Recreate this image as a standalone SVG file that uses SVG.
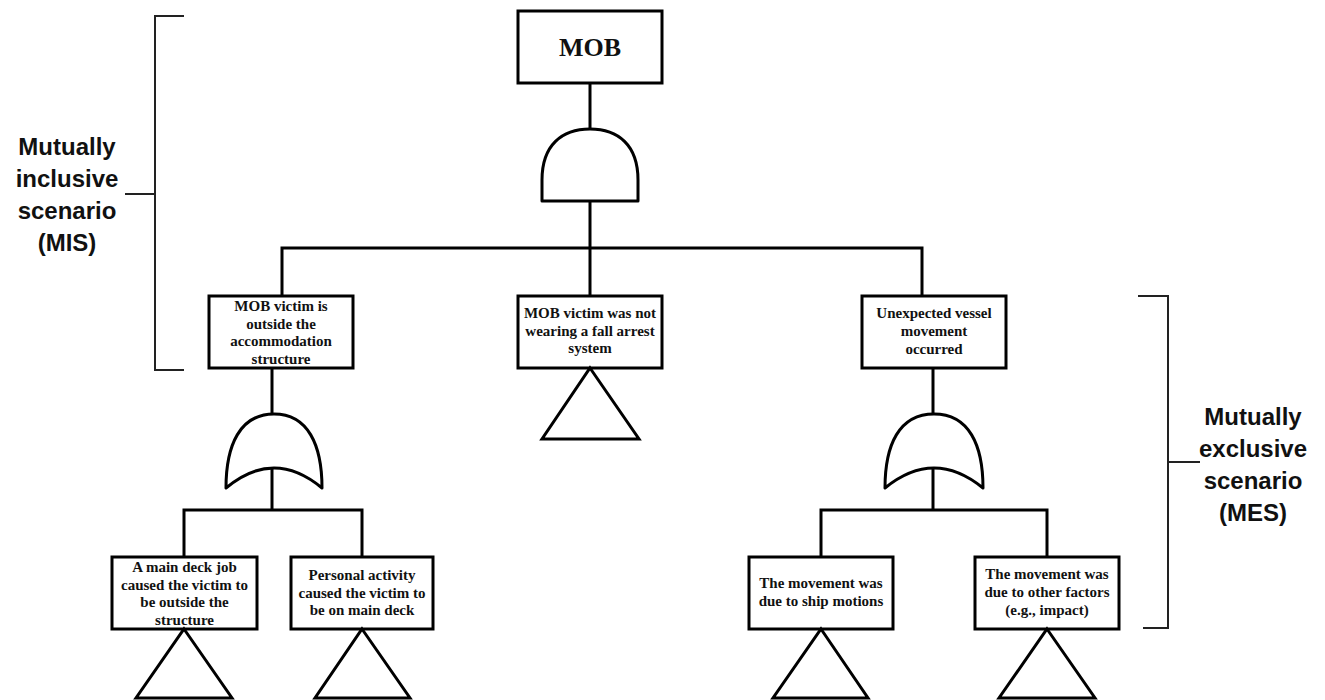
<svg xmlns="http://www.w3.org/2000/svg" width="1325" height="700" viewBox="0 0 1325 700">
  <style>
    .box { fill: #fff; stroke: #000; stroke-width: 3; }
    .gate { fill: #fff; stroke: #000; stroke-width: 3; stroke-linejoin: round; }
    .tri { fill: #fff; stroke: #000; stroke-width: 3; stroke-linejoin: miter; }
    .wire { fill: none; stroke: #000; stroke-width: 3; }
    .brace { fill: none; stroke: #222; stroke-width: 2; }
    .lbl { font-family: "Liberation Serif", "Times New Roman", serif; font-weight: bold; font-size: 15px; fill: #111; text-anchor: middle; }
    .top { font-family: "Liberation Serif", "Times New Roman", serif; font-weight: bold; font-size: 26px; fill: #111; text-anchor: middle; }
    .side { font-family: "Liberation Sans", Arial, sans-serif; font-weight: bold; font-size: 24px; fill: #111; text-anchor: middle; }
  </style>
  <rect width="1325" height="700" fill="#fff"/>

  <!-- connectors -->
  <g id="connectors">
    <path class="wire" d="M590,83 V129"/>
    <path class="wire" d="M590,201 V248"/>
    <path class="wire" d="M282,296 V248 H922 V296"/>
    <path class="wire" d="M590,248 V296"/>
    <path class="wire" d="M272,368 V414"/>
    <path class="wire" d="M272,468 V510"/>
    <path class="wire" d="M184,557 V510 H362 V557"/>
    <path class="wire" d="M933,368 V414"/>
    <path class="wire" d="M933,468 V510"/>
    <path class="wire" d="M821,557 V510 H1047 V557"/>
  </g>

  <!-- top event -->
  <g id="mob">
    <rect class="box" x="518" y="11" width="144" height="72"/>
    <text class="top" x="590" y="56">MOB</text>
  </g>

  <!-- AND gate under the top event -->
  <g id="and-gate">
    <path class="gate" d="M542,201 L542,180 C542,145 562,129 590,129 C618,129 638,145 638,180 L638,201 Z"/>
  </g>

  <g id="outside-structure">
    <rect class="box" x="209" y="296" width="144" height="72"/>
    <text class="lbl" x="281" y="311">MOB victim is</text>
    <text class="lbl" x="281" y="328.5">outside the</text>
    <text class="lbl" x="281" y="346">accommodation</text>
    <text class="lbl" x="281" y="363.5">structure</text>
  </g>

  <g id="no-fall-arrest">
    <rect class="box" x="518" y="296" width="144" height="72"/>
    <text class="lbl" x="590" y="318">MOB victim was not</text>
    <text class="lbl" x="590" y="335.5">wearing a fall arrest</text>
    <text class="lbl" x="590" y="353">system</text>
    <path class="tri" d="M590,368 L639,439 L542,439 Z"/>
  </g>

  <g id="vessel-movement">
    <rect class="box" x="862" y="296" width="144" height="72"/>
    <text class="lbl" x="934" y="318">Unexpected vessel</text>
    <text class="lbl" x="934" y="336">movement</text>
    <text class="lbl" x="934" y="354">occurred</text>
  </g>

  <!-- OR gates -->
  <g id="or-gate-left">
    <path class="gate" d="M226,488 C226,445 240,414 274,414 C308,414 322,445 322,488 Q274,448 226,488 Z"/>
  </g>
  <g id="or-gate-right">
    <path class="gate" d="M885,488 C885,445 899,414 934,414 C969,414 983,445 983,488 Q934,448 885,488 Z"/>
  </g>

  <g id="main-deck-job">
    <rect class="box" x="112" y="557" width="145" height="72"/>
    <text class="lbl" x="184.5" y="572">A main deck job</text>
    <text class="lbl" x="184.5" y="589.5">caused the victim to</text>
    <text class="lbl" x="184.5" y="607">be outside the</text>
    <text class="lbl" x="184.5" y="624.5">structure</text>
    <path class="tri" d="M184,629 L232,698 L136,698 Z"/>
  </g>

  <g id="personal-activity">
    <rect class="box" x="291" y="557" width="142" height="72"/>
    <text class="lbl" x="362" y="580">Personal activity</text>
    <text class="lbl" x="362" y="597.5">caused the victim to</text>
    <text class="lbl" x="362" y="615">be on main deck</text>
    <path class="tri" d="M362,629 L410,698 L315,698 Z"/>
  </g>

  <g id="ship-motions">
    <rect class="box" x="749" y="557" width="144" height="72"/>
    <text class="lbl" x="821" y="588">The movement was</text>
    <text class="lbl" x="821" y="606">due to ship motions</text>
    <path class="tri" d="M821,629 L868,698 L773,698 Z"/>
  </g>

  <g id="other-factors">
    <rect class="box" x="975" y="557" width="144" height="72"/>
    <text class="lbl" x="1047" y="579">The movement was</text>
    <text class="lbl" x="1047" y="597">due to other factors</text>
    <text class="lbl" x="1047" y="614.5">(e.g., impact)</text>
    <path class="tri" d="M1047,629 L1095,698 L999,698 Z"/>
  </g>

  <!-- scenario brackets -->
  <g id="mis-bracket">
    <path class="brace" d="M184,16 H155 V370 H184"/>
    <path class="brace" d="M125,194 H155"/>
    <text class="side" x="67" y="155">Mutually</text>
    <text class="side" x="67" y="187">inclusive</text>
    <text class="side" x="67" y="219">scenario</text>
    <text class="side" x="67" y="251">(MIS)</text>
  </g>

  <g id="mes-bracket">
    <path class="brace" d="M1138,296 H1168 V628 H1143"/>
    <path class="brace" d="M1168,462 H1200"/>
    <text class="side" x="1253" y="425">Mutually</text>
    <text class="side" x="1253" y="457">exclusive</text>
    <text class="side" x="1253" y="489">scenario</text>
    <text class="side" x="1253" y="521">(MES)</text>
  </g>
</svg>
